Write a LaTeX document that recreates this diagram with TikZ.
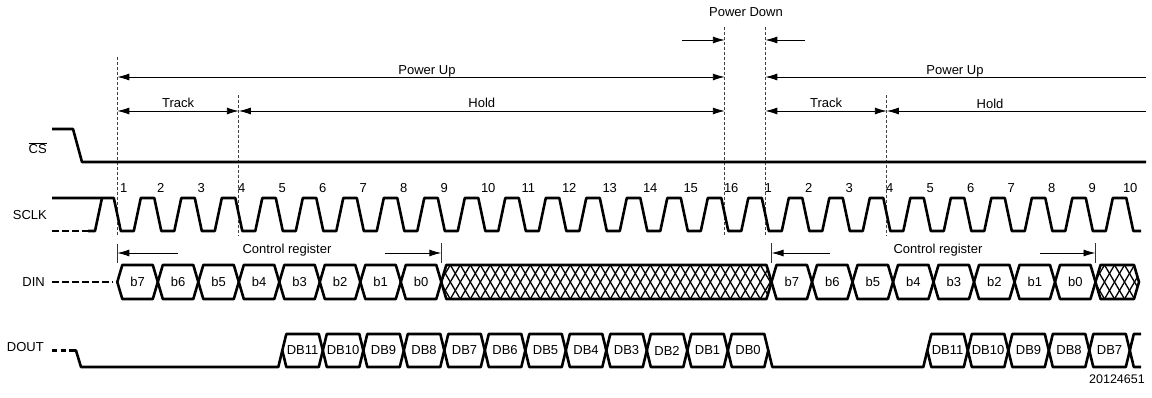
\documentclass[tikz,border=0pt]{standalone}
\usepackage{fontspec}
\setmainfont{Liberation Sans}
\usetikzlibrary{arrows.meta}

% clock geometry: first falling edge and period
\def\xo{117.3}
\def\per{40.5}

\tikzset{
  sig/.style={line width=2.6pt, line join=round},
  sigdash/.style={sig, dash pattern=on 6.5pt off 3.5pt},
  markline/.style={black!75, line width=0.8pt, dash pattern=on 3pt off 2pt},
  tickline/.style={black!80, line width=0.8pt},
  dim/.style={line width=0.9pt, {Latex[length=12pt,width=7pt]}-{Latex[length=12pt,width=7pt]}},
  dimr/.style={line width=0.9pt, -{Latex[length=12pt,width=7pt]}},
  diml/.style={line width=0.9pt, {Latex[length=12pt,width=7pt]}-},
  hatch/.style={line width=1.3pt},
  lbl/.style={font=\fontsize{13}{15}\selectfont, inner sep=0pt},
  num/.style={lbl, anchor=base west},
}

% name, left x, right x, mid y, half height, slant, text
\newcommand\bitbox[7]{%
  \draw[sig] ({#2},{#4}) -- ({#2+#6},{#4-#5}) -- ({#3-#6},{#4-#5}) -- ({#3},{#4})
    -- ({#3-#6},{#4+#5}) -- ({#2+#6},{#4+#5}) -- cycle;
  \node[lbl] (#1) at ({(#2+#3)/2},{#4}) {#7};}

% left x, right x : crossed (don't care) block on DIN
\newcommand\xxbox[2]{%
  \begin{scope}
    \clip ({#1},282) -- ({#1+5},265) -- ({#2-5},265) -- ({#2},282) -- ({#2-5},299) -- ({#1+5},299) -- cycle;
    \foreach \a in {0,...,36} {
      \draw[hatch] ({#1-21+\a*10},265) -- ++(20,34);
      \draw[hatch] ({#1-21+\a*10},299) -- ++(20,-34);
    }
  \end{scope}
  \draw[sig] ({#1},282) -- ({#1+5},265) -- ({#2-5},265) -- ({#2},282) -- ({#2-5},299) -- ({#1+5},299) -- cycle;}

\begin{document}
\begin{tikzpicture}[x=1pt, y=-1pt]
\useasboundingbox (0,0) rectangle (1152,398);

% signal names
\node[lbl, anchor=base east] (cs) at (47,153.5) {$\overline{\mbox{CS}}$};
\node[lbl, anchor=base east] (sclk) at (47,220) {SCLK};
\node[lbl, anchor=base east] (din) at (45,287) {DIN};
\node[lbl, anchor=base east] (dout) at (44,352) {DOUT};
\node[lbl, font=\fontsize{12.5}{14}\selectfont, anchor=base east] (fig) at (1145,383.5) {20124651};

% timing marks
\coordinate (t0) at (\xo,57);
\coordinate (t3) at ({\xo+3*\per},95);
\coordinate (t15) at ({\xo+15*\per},27);
\coordinate (t16) at ({\xo+16*\per},27);
\coordinate (t19) at ({\xo+19*\per},95);
\foreach \t in {t0,t3,t15,t16,t19}
  \draw[markline] (\t) -- (\t |- 0,236);

% power down
\node[lbl, anchor=base] (pd) at (746,17) {Power Down};
\coordinate (pdl) at (682,40);
\coordinate (pdr) at (805,40);
\draw[dimr] (pdl) -- (t15 |- pdl);
\draw[dimr] (pdr) -- (t16 |- pdr);

% power up / track / hold
\coordinate (pu) at (1146,77);
\coordinate (hd) at (1146,111);
\draw[dim] (t0 |- pu) -- (t15 |- pu);
\node[lbl, anchor=base] (pu1) at (427,75) {Power Up};
\draw[diml] (t16 |- pu) -- (pu);
\node[lbl, anchor=base] (pu2) at (955,75) {Power Up};
\draw[dim] (t0 |- hd) -- node[lbl, above=2.5pt] (tr1) {Track} (t3 |- hd);
\draw[dim] (t3 |- hd) -- node[lbl, above=2.5pt] (ho1) {Hold} (t15 |- hd);
\draw[dim] (t16 |- hd) -- node[lbl, above=2.5pt] (tr2) {Track} (t19 |- hd);
\draw[diml] (t19 |- hd) -- (hd);
\node[lbl, anchor=base] (ho2) at (990,109) {Hold};

% CS
\draw[sig] (52,129) -- (73,129) -- (82,162) -- (1146,162);

% SCLK
\draw[sigdash] (52,231) -- (88,231);
\draw[sig] (88,231) -- (95,231) -- (102,198);
\draw[sig] (52,198) -- ({\xo-3.5},198)
  \foreach \n in {0,...,24} {
    -- ({\xo+\n*\per+3.5},231) -- ({\xo+\n*\per+16.5},231)
    -- ({\xo+\n*\per+23.5},198) -- ({\xo+(\n+1)*\per-3.5},198)}
  -- ({\xo+25*\per+3.5},231) -- (1141,231);
\node[num] (ca1) at ({\xo+2.5},193) {1};
\foreach \n [evaluate=\n as \k using int(\n+1)] in {1,...,15}
  \node[num] (ca\k) at ({\xo+\n*\per-1},193) {\k};
\foreach \n [evaluate=\n as \k using int(\n-15)] in {16,...,24}
  \node[num] (cb\k) at ({\xo+\n*\per-1},193) {\k};
\node[num] (cb10) at ({\xo+25*\per-7},193) {10};

% DIN
\def\xs{771.5}
\draw[sigdash] (52,282) -- (113,282);
\foreach \lab [count=\i from 0] in {b7,b6,b5,b4,b3,b2,b1,b0}
  {\bitbox{da\i}{\xo+\i*\per}{\xo+(\i+1)*\per}{282}{17}{5}{\lab}}
\xxbox{\xo+8*\per}{\xs}
\foreach \lab [count=\i from 0] in {b7,b6,b5,b4,b3,b2,b1,b0}
  {\bitbox{db\i}{\xs+\i*\per}{\xs+(\i+1)*\per}{282}{17}{5}{\lab}}
\xxbox{\xs+8*\per}{1139}

% control register
\coordinate (cr) at (0,253);
\coordinate (c1) at (\xo,244);
\coordinate (c2) at ({\xo+8*\per},243);
\coordinate (c3) at (\xs,243);
\coordinate (c4) at ({\xs+8*\per},243);
\foreach \c in {c1,c2,c3,c4}
  \draw[tickline] (\c) -- (\c |- 0,263);
\draw[dimr] (178,253) -- (c1 |- cr);
\draw[dimr] (385,253) -- (c2 |- cr);
\draw[dimr] (830,253) -- (c3 |- cr);
\draw[dimr] (1040,253) -- (c4 |- cr);
\node[lbl, anchor=base] (cra) at (287,254) {Control register};
\node[lbl, anchor=base] (crb) at (938,254) {Control register};

% DOUT
\draw[sig, dash pattern=on 5pt off 3.5pt] (52,350.5) -- (66,350.5);
\draw[sig] (69,350.5) -- (76,350.5) -- (81,367) -- ({\xo+4*\per-1},367) -- ({\xo+4*\per+3},350.5);
\foreach \lab [count=\i from 4] in {DB11,DB10,DB9,DB8,DB7,DB6,DB5,DB4,DB3,DB2,DB1,DB0}
  {\bitbox{oa\i}{\xo+\i*\per+3}{\xo+(\i+1)*\per+3}{350.5}{16.5}{4}{\lab}}
\draw[sig] ({\xo+16*\per+3},350.5) -- ({\xo+16*\per+7},367) -- ({\xo+20*\per-4},367) -- ({\xo+20*\per},350.5);
\foreach \lab [count=\i from 20] in {DB11,DB10,DB9,DB8,DB7}
  {\bitbox{ob\i}{\xo+\i*\per}{\xo+(\i+1)*\per}{350.5}{16.5}{4}{\lab}}
\draw[sig] (1141,334) -- ({\xo+25*\per+4},334) -- ({\xo+25*\per},350.5) -- ({\xo+25*\per+4},367) -- (1141,367);
\end{tikzpicture}
\end{document}
